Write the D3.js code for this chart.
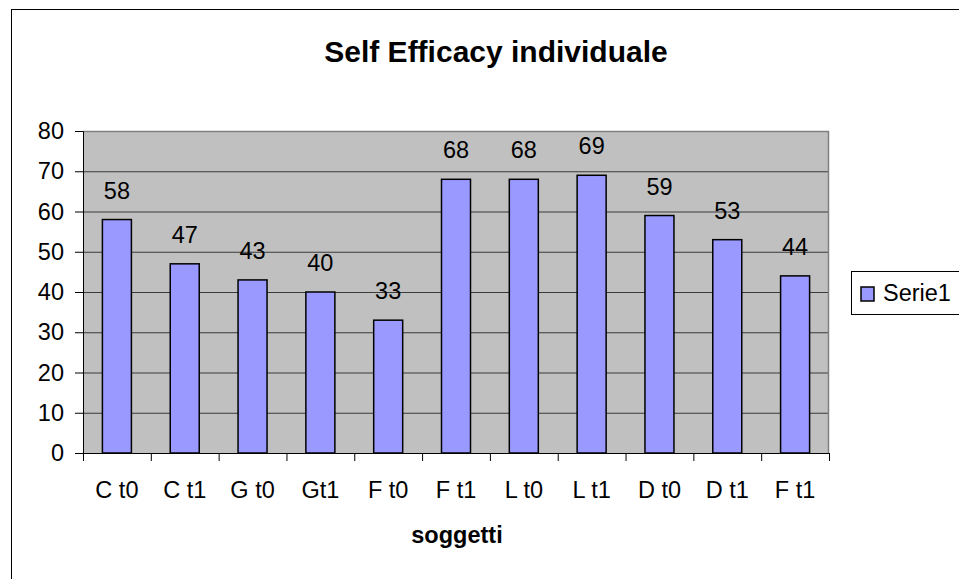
<!DOCTYPE html>
<html>
<head>
<meta charset="utf-8">
<script src="https://cdn.jsdelivr.net/npm/d3@7"></script>
<style>
  body { margin: 0; background: #fff; }
  svg text { font-family: "Liberation Sans", Arial, sans-serif; }
</style>
</head>
<body>
<svg id="chart" width="959" height="579"></svg>
<script>
const categories = ["C t0", "C t1", "G t0", "Gt1", "F t0", "F t1", "L t0", "L t1", "D t0", "D t1", "F t1"];
const values = [58, 47, 43, 40, 33, 68, 68, 69, 59, 53, 44];
const yTicks = [0, 10, 20, 30, 40, 50, 60, 70, 80];
const seriesName = "Serie1";

document.addEventListener('DOMContentLoaded', _ => {
  const svg = d3.select("svg#chart");

  const plot = { left: 83, right: 829, top: 131, bottom: 453 };
  const plotWidth = plot.right - plot.left;
  const plotHeight = plot.bottom - plot.top;
  const fontSize = 23.5;

  // outer chart frame (runs off the right and bottom edge)
  svg.append("rect")
    .attr("x", 11.5).attr("y", 9.5)
    .attr("width", 1000).attr("height", 1000)
    .attr("fill", "#fff").attr("stroke", "#000");

  svg.append("text")
    .text("Self Efficacy individuale")
    .attr("x", 496).attr("y", 62)
    .attr("text-anchor", "middle")
    .attr("font-size", 30).attr("font-weight", "bold");

  //scales
  let xScale = d3.scaleBand().domain(d3.range(categories.length)).range([0, plotWidth]);
  let xEdges = d3.scaleLinear().domain([0, categories.length]).range([0, plotWidth]);
  let yScale = d3.scaleLinear().domain([0, 80]).range([plotHeight, 0]);

  let chartArea = svg.append("g")
    .attr("transform", `translate(${plot.left},${plot.top})`);

  chartArea.append("rect")
    .attr("width", plotWidth).attr("height", plotHeight)
    .attr("fill", "#c0c0c0");

  // gridlines
  chartArea.append("g")
    .call(d3.axisLeft(yScale).tickValues(yTicks).tickSize(-plotWidth).tickFormat(""))
    .call(g => g.select(".domain").remove())
    .call(g => g.selectAll("line").attr("stroke", "#3a3a3a").attr("stroke-width", 1));

  // gray top and right border of plot
  chartArea.append("path")
    .attr("d", `M0,0.5H${plotWidth - 0.5}V${plotHeight}`)
    .attr("fill", "none").attr("stroke", "#808080").attr("stroke-width", 1.5);

  // bars
  const barWidth = 29;
  chartArea.selectAll("rect.bar")
    .data(values)
    .join("rect")
    .attr("class", "bar")
    .attr("x", (d, i) => xScale(i) + xScale.bandwidth() / 2 - barWidth / 2)
    .attr("y", d => yScale(d))
    .attr("width", barWidth)
    .attr("height", d => plotHeight - yScale(d))
    .attr("fill", "#9999ff")
    .attr("stroke", "#000")
    .attr("stroke-width", 1.5);

  // bar labels
  chartArea.selectAll("text.val")
    .data(values)
    .join("text")
    .attr("class", "val")
    .text(d => d)
    .attr("x", (d, i) => xScale(i) + xScale.bandwidth() / 2)
    .attr("y", d => yScale(d) - 21)
    .attr("text-anchor", "middle")
    .attr("font-size", fontSize);

  // y axis
  chartArea.append("g")
    .call(d3.axisLeft(yScale).tickValues(yTicks).tickSize(8).tickPadding(11))
    .call(g => g.selectAll("path, line").attr("stroke", "#000"))
    .call(g => g.selectAll("text").attr("font-size", fontSize).attr("font-family", null).attr("fill", "#000"));

  // x axis: ticks between categories
  chartArea.append("g")
    .attr("transform", `translate(0,${plotHeight})`)
    .call(d3.axisBottom(xEdges).tickValues(d3.range(categories.length + 1)).tickSize(8).tickFormat(""))
    .call(g => g.selectAll("path, line").attr("stroke", "#000"));

  chartArea.append("g")
    .attr("transform", `translate(0,${plotHeight})`)
    .call(d3.axisBottom(xScale).tickSize(0).tickPadding(28).tickFormat(i => categories[i]))
    .call(g => g.select(".domain").remove())
    .call(g => g.selectAll("text").attr("font-size", fontSize).attr("font-family", null).attr("fill", "#000"));

  svg.append("text")
    .text("soggetti")
    .attr("x", (plot.left + plot.right) / 2 + 1).attr("y", 543)
    .attr("text-anchor", "middle")
    .attr("font-size", fontSize).attr("font-weight", "bold");

  // legend
  let legend = svg.append("g").attr("transform", "translate(851,271)");
  legend.append("rect")
    .attr("x", 0.5).attr("y", 0.5)
    .attr("width", 200).attr("height", 43)
    .attr("fill", "#fff").attr("stroke", "#000");
  legend.append("rect")
    .attr("x", 10).attr("y", 16)
    .attr("width", 13).attr("height", 14)
    .attr("fill", "#9999ff").attr("stroke", "#000").attr("stroke-width", 1.5);
  legend.append("text")
    .text(seriesName)
    .attr("x", 32).attr("y", 30)
    .attr("font-size", fontSize);
});
</script>
</body>
</html>
